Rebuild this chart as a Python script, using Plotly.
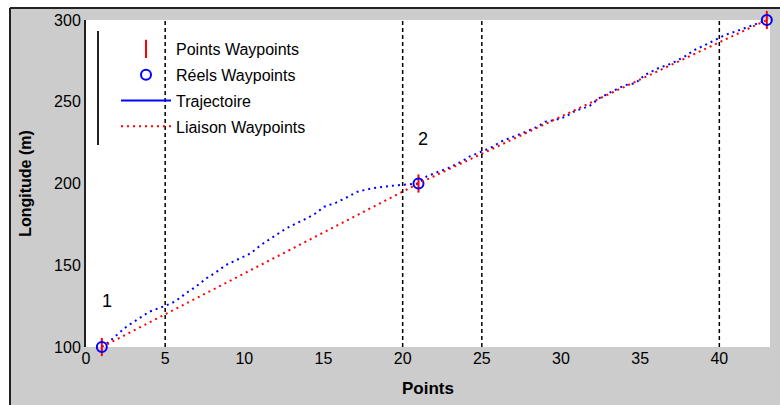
import plotly.graph_objects as go

# Waypoints (point index, longitude in m)
wp_x = [1, 21, 43]
wp_y = [100, 200, 300]

# Waypoints actually reached by the vehicle
real_x = [1, 21, 43]
real_y = [100, 200, 300]

# Recorded trajectory
traj_x = [1.0, 1.3, 1.7, 2.55, 3.2, 4.0, 4.95, 5.6, 6.45, 6.95, 7.6, 8.1, 8.85,
          9.7, 10.4, 11.05, 11.85, 12.65, 13.5, 14.35, 15.05, 15.8, 16.55, 17.15,
          18.1, 19.7, 21.0, 21.5, 22.1, 22.9, 23.8, 24.2, 25.55, 26.2, 26.9,
          27.55, 28.5, 29.0, 29.65, 30.3, 30.8, 31.35, 31.75, 32.4, 33.2, 34.05,
          34.7, 35.3, 36.15, 37.0, 37.8, 38.45, 39.1, 39.7, 40.35, 41.0, 41.8, 43.0]
traj_y = [100, 102, 105.3, 112.4, 116.5, 121.6, 125, 127.7, 133.8, 136.9, 142,
          145, 150.2, 154.2, 157.3, 162.4, 167.5, 172.6, 176.6, 180.7, 185.8,
          188.3, 191.9, 195, 197.1, 199, 200, 204.2, 206.6, 209.5, 213.8, 216.4,
          221.8, 225.6, 228.3, 230.7, 234.7, 237.8, 238.8, 240.9, 243.9, 246, 247,
          252.1, 256.2, 260.2, 261.3, 266.4, 270.5, 273.5, 277.6, 281.7, 284.7,
          287.8, 290.8, 292.9, 295.9, 300]

# Reference point indices marked with vertical dotted lines
mark_x = [5, 20, 25, 40]

# Waypoint labels
label_text = ["1", "2"]
label_x = [1.3, 21.3]
label_y = [128, 227]

x_ticks = [0, 5, 10, 15, 20, 25, 30, 35, 40]
y_ticks = [100, 150, 200, 250, 300]

FONT = "Liberation Sans, Arial, sans-serif"

fig = go.Figure()

fig.add_trace(go.Scatter(
    x=wp_x, y=wp_y, mode="markers", name="Points Waypoints",
    marker=dict(symbol="line-ns", size=13, color="red",
                line=dict(color="red", width=2)),
    cliponaxis=False, legendgroup="a",
))
fig.add_trace(go.Scatter(
    x=real_x, y=real_y, mode="markers", name="Réels Waypoints",
    marker=dict(symbol="circle-open", size=10, color="blue",
                line=dict(color="blue", width=2)),
    cliponaxis=False, legendgroup="b",
))
fig.add_trace(go.Scatter(
    x=traj_x, y=traj_y, mode="lines", name="Trajectoire",
    line=dict(color="blue", width=2, dash="2px,4px"),
    showlegend=False, legendgroup="c",
))
# solid key for the trajectory
fig.add_trace(go.Scatter(
    x=[None], y=[None], mode="lines", name="Trajectoire",
    line=dict(color="blue", width=2), legendgroup="c",
))
fig.add_trace(go.Scatter(
    x=wp_x, y=wp_y, mode="lines", name="Liaison Waypoints",
    line=dict(color="red", width=2, dash="2px,4px"),
    legendgroup="d",
))

shapes = []
for xv in mark_x:
    shapes.append(dict(type="line", xref="x", yref="paper", x0=xv, x1=xv,
                       y0=0, y1=1, line=dict(color="black", width=1.5,
                                               dash="4px,3px")))

# outer frame of the figure window
PL, PR, PT, PB = 86, 770, 20, 347
def px_x(p):
    return (p - PL) / (PR - PL)
def px_y(p):
    return (PB - p) / (PB - PT)

shapes += [
    dict(type="rect", xref="paper", yref="paper", x0=px_x(0), x1=px_x(10),
         y0=px_y(405), y1=px_y(0), fillcolor="white", line=dict(width=0)),
    dict(type="rect", xref="paper", yref="paper", x0=px_x(0), x1=px_x(780),
         y0=px_y(8), y1=px_y(0), fillcolor="white", line=dict(width=0)),
    dict(type="line", xref="paper", yref="paper", x0=px_x(10), x1=px_x(10),
         y0=px_y(405), y1=px_y(8), line=dict(color="#222", width=2)),
    dict(type="line", xref="paper", yref="paper", x0=px_x(10), x1=px_x(780),
         y0=px_y(8), y1=px_y(8), line=dict(color="#222", width=2)),
    # left edge of the legend box
    dict(type="line", xref="paper", yref="paper", x0=px_x(98), x1=px_x(98),
         y0=px_y(145), y1=px_y(31), line=dict(color="#222", width=2)),
]

annotations = [
    dict(x=xv, y=yv, text=t, showarrow=False, xref="x", yref="y",
         font=dict(family=FONT, size=18, color="black"))
    for t, xv, yv in zip(label_text, label_x, label_y)
]

fig.update_layout(
    width=780, height=405,
    margin=dict(l=PL, r=780 - PR, t=PT, b=405 - PB),
    paper_bgcolor="#cccccc", plot_bgcolor="white",
    font=dict(family=FONT, size=16, color="black"),
    shapes=shapes, annotations=annotations,
    showlegend=True,
    legend=dict(x=px_x(116), y=px_y(32), xanchor="left", yanchor="top",
                bgcolor="rgba(0,0,0,0)", borderwidth=0,
                font=dict(family=FONT, size=16, color="black"),
                tracegroupgap=2, itemwidth=50),
    xaxis=dict(range=[0, 43.2], tickvals=x_ticks, ticks="", showgrid=False,
               zeroline=False, showline=False,
               tickfont=dict(family=FONT, size=16),
               title=dict(text="<b>Points</b>", font=dict(family=FONT, size=17),
                          standoff=16)),
    yaxis=dict(range=[100, 300], tickvals=y_ticks, ticks="", showgrid=False,
               zeroline=False, showline=True, linecolor="#222", linewidth=2,
               tickfont=dict(family=FONT, size=16),
               title=dict(text="<b>Longitude (m)</b>",
                          font=dict(family=FONT, size=16), standoff=18)),
)

fig.write_html("out.html")
